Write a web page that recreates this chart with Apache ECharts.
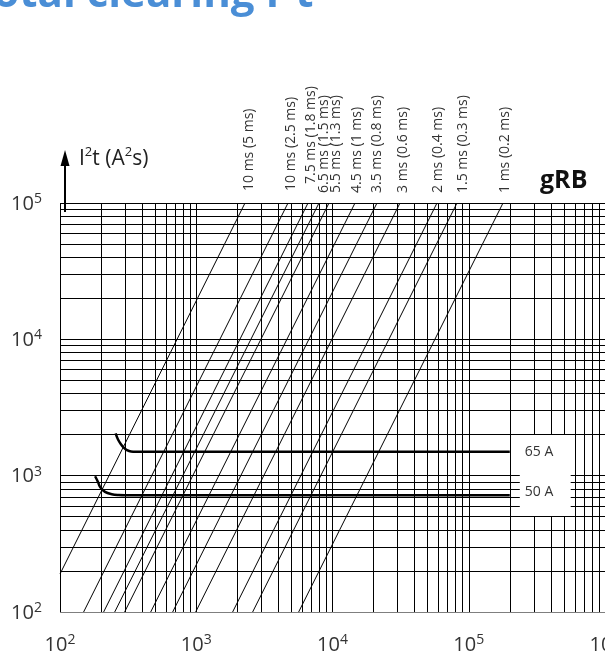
<!DOCTYPE html>
<html><head><meta charset="utf-8">
<script src="https://cdn.jsdelivr.net/npm/echarts@6/dist/echarts.min.js"></script>
<style>html,body{margin:0;padding:0;background:#fff;overflow:hidden}#c{width:605px;height:658px}</style>
</head><body><div id="c"></div>
<script>
// ---- data ----
const xTickExponents = [2, 3, 4, 5, 6];          // 10^2 .. 10^6 (A)
const yTickExponents = [2, 3, 4, 5];             // 10^2 .. 10^5 (A²s)
const xMin = 100, xMax = 1000000, yMin = 100, yMax = 100000;

const diagNames  = ['10 ms (5 ms)','10 ms (2.5 ms)','7.5 ms (1.8 ms)','6.5 ms (1.5 ms)','5.5 ms (1.3 ms)','4.5 ms (1 ms)','3.5 ms (0.8 ms)','3 ms (0.6 ms)','2 ms (0.4 ms)','1.5 ms (0.3 ms)','1 ms (0.2 ms)'];
const diagLowI    = [100, 149, 209, 252, 298, 463, 671, 990, 1849, 2593, 5642];
const diagLowI2t  = [190, 100, 100, 100, 100, 100, 100, 100, 100, 100, 100];
const diagHighI   = [2280, 4715, 6611, 7960, 9426, 14630, 21210, 31290, 58480, 81990, 178400];
const diagHighI2t = [100000, 100000, 100000, 100000, 100000, 100000, 100000, 100000, 100000, 100000, 100000];

const curveNames = ['65 A', '50 A'];
const curve65 = [[256,2040],[266,1850],[280,1700],[295,1600],[310,1540],[332,1505],[360,1500],[200000,1500]];
const curve50 = [[181,990],[190,900],[197,826],[214,760],[240,730],[270,720],[300,718],[200000,718]];

// label layout (pixels, relative to the top end of each line)
const diagLabelDx = [4, 3, 3, 5, 7, 2, 0, 3, 1, 6, 2];
const diagLabelBottom = [191, 191, 184, 193, 193, 193, 193, 193, 193, 193, 193];

// ---- gridlines (log decades 1..9) ----
function gridValues(minExp, maxExp) {
  const v = [];
  for (let e = minExp; e < maxExp; e++) for (let k = 1; k <= 9; k++) v.push(k * Math.pow(10, e));
  v.push(Math.pow(10, maxExp));
  return v;
}
const boxX0 = 200000, boxX1 = 560000, boxY0 = 500, boxY1 = 2000, stubX = 237000;
const gridSegs = [];
gridValues(2, 6).forEach(x => {
  if (x > boxX0 && x < boxX1) {
    gridSegs.push({coords: [[x, yMin], [x, boxY0]]});
    gridSegs.push({coords: [[x, boxY1], [x, yMax]]});
  } else gridSegs.push({coords: [[x, yMin], [x, yMax]]});
});
gridValues(2, 5).forEach(y => {
  if (y > boxY0 && y < boxY1) {
    gridSegs.push({coords: [[xMin, y], [stubX, y]]});
    gridSegs.push({coords: [[boxX1, y], [xMax, y]]});
  } else gridSegs.push({coords: [[xMin, y], [xMax, y]]});
});
const diagSegs = diagNames.map((n, i) => ({name: n, coords: [[diagLowI[i], diagLowI2t[i]], [diagHighI[i], diagHighI2t[i]]]}));

const chart = echarts.init(document.getElementById('c'), null, {renderer: 'canvas'});
const FONT = '"Open Sans", "Noto Sans", sans-serif';
const supLabel = (v) => '{b|10}{s|' + Math.round(Math.log10(v)) + '}';
const labelRich = {
  b: {fontSize: 20, fontFamily: FONT, color: '#333', lineHeight: 22, verticalAlign: 'bottom'},
  s: {fontSize: 14, fontFamily: FONT, color: '#333', lineHeight: 14, verticalAlign: 'top'}
};
chart.setOption({
  animation: false,
  backgroundColor: '#fff',
  grid: {left: 60, right: 0, top: 203, bottom: 46, containLabel: false, outerBoundsMode: 'none'},
  xAxis: {type: 'log', logBase: 10, min: xMin, max: xMax,
    axisLine: {show: false}, axisTick: {show: false}, splitLine: {show: false},
    axisLabel: {formatter: supLabel, rich: labelRich, margin: 21, showMaxLabel: true, showMinLabel: true, hideOverlap: false}},
  yAxis: {type: 'log', logBase: 10, min: yMin, max: yMax,
    axisLine: {show: false}, axisTick: {show: false}, splitLine: {show: false},
    axisLabel: {formatter: supLabel, rich: labelRich, margin: 18}},
  series: [
    {type: 'lines', coordinateSystem: 'cartesian2d', silent: true, data: gridSegs,
     lineStyle: {color: '#000', width: 1, opacity: 1}},
    {type: 'lines', coordinateSystem: 'cartesian2d', silent: true, data: diagSegs,
     lineStyle: {color: '#000', width: 1, opacity: 1}},
    {type: 'line', name: curveNames[0], data: curve65, smooth: 0.4, showSymbol: false, symbol: 'none',
     lineStyle: {color: '#000', width: 2.5},
     endLabel: {show: true, formatter: curveNames[0], offset: [7, 0], color: '#333', fontSize: 14, fontFamily: FONT}},
    {type: 'line', name: curveNames[1], data: curve50, smooth: 0.4, showSymbol: false, symbol: 'none',
     lineStyle: {color: '#000', width: 2.5},
     endLabel: {show: true, formatter: curveNames[1], offset: [7, -3], color: '#333', fontSize: 14, fontFamily: FONT}}
  ]
});

// text elements positioned via the chart's own scales
const g = [];
diagNames.forEach((n, i) => {
  const p = chart.convertToPixel({gridIndex: 0}, [diagHighI[i], diagHighI2t[i]]);
  g.push({type: 'text', x: p[0] + diagLabelDx[i], y: diagLabelBottom[i], rotation: Math.PI / 2,
    style: {text: n, fontSize: 14, fontFamily: FONT, fill: '#333', align: 'left', verticalAlign: 'middle'}});
});
g.push({type: 'text', x: -31, y: -26, style: {text: 'Total clearing I²t', fontSize: 42, fontWeight: 'bold', fontFamily: FONT, fill: '#4a8ed6', align: 'left', verticalAlign: 'top'}});
g.push({type: 'text', x: 540, y: 168, style: {text: 'gRB', fontSize: 25, fontWeight: 'bold', fontFamily: FONT, fill: '#111', align: 'left', verticalAlign: 'top'}});
g.push({type: 'line', shape: {x1: 65, y1: 212, x2: 65, y2: 162}, style: {stroke: '#000', lineWidth: 2}});
g.push({type: 'polygon', shape: {points: [[65, 150], [60.5, 166], [69.5, 166]]}, style: {fill: '#000'}});
g.push({type: 'text', x: 79, y: 146, style: {
  text: '{a|I}{s|2}{a|t (A}{s|2}{a|s)}', fontFamily: FONT, fill: '#222', verticalAlign: 'top',
  rich: {a: {fontSize: 21, fontFamily: FONT, color: '#222', lineHeight: 24, verticalAlign: 'bottom'},
         s: {fontSize: 13, fontFamily: FONT, color: '#222', lineHeight: 13, verticalAlign: 'top'}}}});
chart.setOption({graphic: g});
</script>
</body></html>
